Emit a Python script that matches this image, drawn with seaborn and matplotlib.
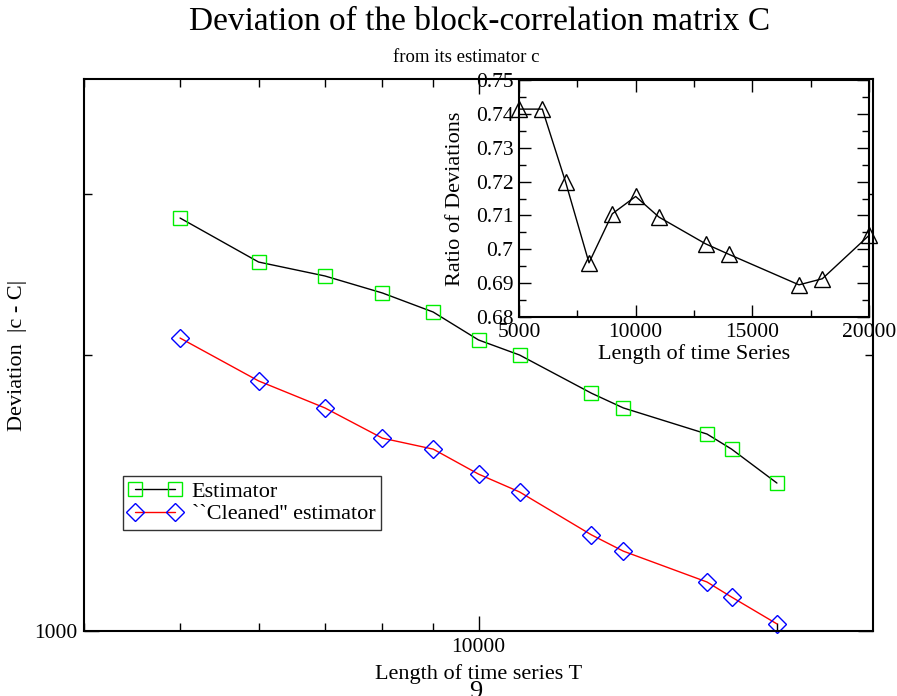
import numpy as np
import pandas as pd
import matplotlib
matplotlib.use("Agg")
import matplotlib.pyplot as plt
import matplotlib.ticker as mticker
import seaborn as sns

# data
T = [5000, 6000, 7000, 8000, 9000, 10000, 11000, 13000, 14000, 17000, 18000, 20000]
dev_estimator = [2821, 2526, 2439, 2337, 2228, 2077, 2000, 1817, 1751, 1640, 1579, 1450]
dev_cleaned = [2087, 1874, 1751, 1623, 1579, 1483, 1418, 1273, 1222, 1131, 1089, 1018]
ratio = [0.7414, 0.7414, 0.7198, 0.696, 0.7105, 0.7156, 0.7095, 0.7016, 0.6985, 0.6895, 0.6913, 0.7041]

df = pd.DataFrame({"T": T, "est": dev_estimator, "clean": dev_cleaned, "ratio": ratio})

sns.set_style("ticks")
plt.rcParams["font.family"] = ["Liberation Serif", "DejaVu Serif"]
plt.rcParams.update({"text.color": "black", "axes.labelcolor": "black",
                     "xtick.color": "black", "ytick.color": "black",
                     "axes.edgecolor": "black"})

fig = plt.figure(figsize=(8.97, 6.96), dpi=100)
ax = fig.add_axes([84 / 897, 1 - 631 / 696, 789 / 897, 552 / 696])

sns.lineplot(data=df, x="T", y="est", ax=ax, color="black", lw=1,
             marker="s", markersize=10, markerfacecolor="none",
             markeredgecolor="#00ee00", markeredgewidth=1, label="Estimator")
sns.lineplot(data=df, x="T", y="clean", ax=ax, color="red", lw=1,
             marker="D", markersize=9.5, markerfacecolor="none",
             markeredgecolor="blue", markeredgewidth=1, label="``Cleaned'' estimator",
             clip_on=False)

ax.set_xscale("log")
ax.set_yscale("log")
ax.set_xlim(4000, 25000)
ax.set_ylim(1000, 4000)
ax.xaxis.set_major_locator(mticker.FixedLocator([10000]))
ax.xaxis.set_major_formatter(mticker.FixedFormatter(["10000"]))
ax.xaxis.set_minor_locator(mticker.LogLocator(subs=np.arange(2, 10)))
ax.xaxis.set_minor_formatter(mticker.NullFormatter())
ax.yaxis.set_major_locator(mticker.FixedLocator([1000]))
ax.yaxis.set_major_formatter(mticker.FixedFormatter(["1000"]))
ax.yaxis.set_minor_locator(mticker.FixedLocator([2000, 3000]))
ax.yaxis.set_minor_formatter(mticker.NullFormatter())
ax.tick_params(which="both", direction="in", top=True, right=True, labelsize=15.5, width=1, pad=5)
ax.tick_params(which="major", length=11)
ax.tick_params(which="minor", length=6)
for s in ax.spines.values():
    s.set_linewidth(1.5)
ax.set_xlabel("Length of time series T", fontsize=16, labelpad=5)
ax.set_ylabel("Deviation  |c - C|", fontsize=16)
ax.yaxis.set_label_coords(-0.072, 0.5)

leg = ax.legend(loc="lower left", bbox_to_anchor=(0.049, 0.183), fontsize=16,
                numpoints=2, frameon=True, fancybox=False, edgecolor="black",
                borderpad=0.25, handlelength=2.4, handletextpad=0.45,
                labelspacing=0.1, borderaxespad=0)
leg.get_frame().set_linewidth(1)

# inset
axi = fig.add_axes([519 / 897, 1 - 317 / 696, 350 / 897, 237 / 696])
sns.lineplot(data=df, x="T", y="ratio", ax=axi, color="black", lw=1,
             marker="^", markersize=12, markerfacecolor="none",
             markeredgecolor="black", markeredgewidth=1, clip_on=False)
axi.set_xlim(5000, 20000)
axi.set_ylim(0.68, 0.75)
axi.xaxis.set_major_locator(mticker.MultipleLocator(5000))
axi.xaxis.set_minor_locator(mticker.MultipleLocator(2500))
axi.yaxis.set_major_locator(mticker.MultipleLocator(0.01))
axi.yaxis.set_minor_locator(mticker.MultipleLocator(0.005))
axi.yaxis.set_major_formatter(mticker.FuncFormatter(lambda v, p: f"{v:.2f}".rstrip("0").rstrip(".")))
axi.tick_params(which="both", direction="in", top=True, right=True, labelsize=15.5, width=1, pad=4)
axi.tick_params(which="major", length=8.5)
axi.tick_params(which="minor", length=5)
for s in axi.spines.values():
    s.set_linewidth(1.5)
axi.set_xlabel("Length of time Series", fontsize=16, labelpad=2)
axi.set_ylabel("Ratio of Deviations", fontsize=16)
axi.yaxis.set_label_coords(-0.154, 0.5)

fig.text(480 / 897, 1 - 22 / 696, "Deviation of the block-correlation matrix C",
         fontsize=24, ha="center", va="center")
fig.text(466 / 897, 1 - 57 / 696, "from its estimator c", fontsize=13.5,
         ha="center", va="center")
fig.text(476 / 897, 1 - 692 / 696, "9", fontsize=19, ha="center", va="center")

fig.savefig("out.png", dpi=100)
